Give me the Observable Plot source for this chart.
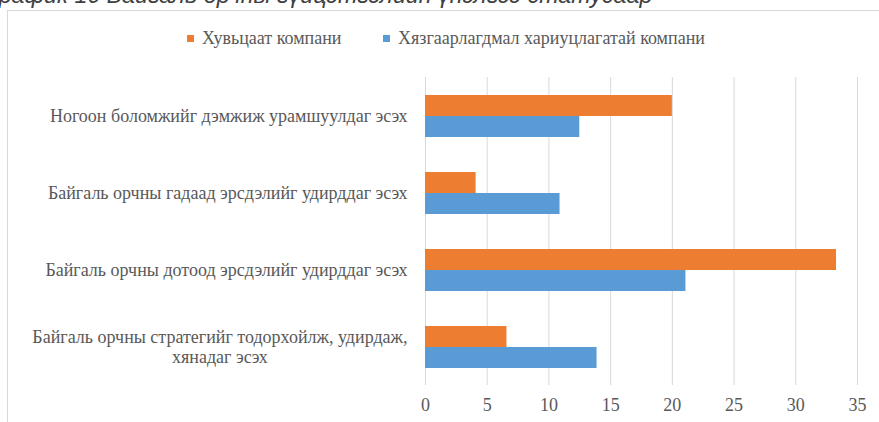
<!DOCTYPE html>
<html><head><meta charset="utf-8">
<script src="https://cdn.jsdelivr.net/npm/d3@7"></script>
<script src="https://cdn.jsdelivr.net/npm/@observablehq/plot@0.6"></script>
<style>
html,body{margin:0;padding:0;background:#fff;}
body{width:879px;height:422px;overflow:hidden;position:relative;font-family:"Liberation Serif",serif;}
#title{position:absolute;left:-13px;top:-16px;font-style:italic;font-family:"Liberation Sans",Arial,sans-serif;font-size:23.3px;line-height:1;color:#404040;white-space:nowrap;}
#frame{position:absolute;left:7px;top:10px;width:920px;height:440px;border:1px solid #d9d9d9;box-sizing:border-box;}
.li{position:absolute;top:29px;height:18px;display:flex;align-items:center;font-size:18px;color:#595959;white-space:nowrap;font-family:"Liberation Serif",serif;}
.sw{width:7px;height:7px;margin-right:8px;}
#chart{position:absolute;left:0;top:55px;}
#chart svg text{font-family:"Liberation Serif",serif;}
</style></head>
<body>
<div id="title"></div>
<div id="frame"></div>
<div id="legend"></div>
<div id="chart"></div>
<script>
const titleText = "График 10 Байгаль орчны гүйцэтгэлийн үнэлгээ статусаар";
const categories = [
  "Ногоон боломжийг дэмжиж урамшуулдаг эсэх",
  "Байгаль орчны гадаад эрсдэлийг удирддаг эсэх",
  "Байгаль орчны дотоод эрсдэлийг удирддаг эсэх",
  "Байгаль орчны стратегийг тодорхойлж, удирдаж,\nхянадаг эсэх"
];
const seriesNames = ["Хувьцаат компани", "Хязгаарлагдмал хариуцлагатай компани"];
const jointStock = [20.0, 4.1, 33.3, 6.6];
const llc = [12.5, 10.9, 21.1, 13.9];
const xTicks = [0, 5, 10, 15, 20, 25, 30, 35];
const colors = ["#ED7D31", "#5B9BD5"];

const data = [];
categories.forEach((c, i) => {
  data.push({category: c, series: seriesNames[0], value: jointStock[i]});
  data.push({category: c, series: seriesNames[1], value: llc[i]});
});

document.getElementById("title").textContent = titleText;

// legend
const legend = document.getElementById("legend");
const legendLeft = [187, 383];
seriesNames.forEach((s, i) => {
  const d = document.createElement("div");
  d.className = "li";
  d.style.left = legendLeft[i] + "px";
  d.innerHTML = `<span class="sw" style="background:${colors[i]}"></span><span>${s}</span>`;
  legend.appendChild(d);
});

const chart = Plot.plot({
  width: 879,
  height: 367,
  marginLeft: 425,
  marginRight: 22,
  marginTop: 21,
  marginBottom: 37,
  style: {fontFamily: "'Liberation Serif', serif", fontSize: "18px", color: "#595959", background: "transparent"},
  x: {domain: [0, 35], axis: null},
  fy: {domain: categories, padding: 0, axis: null},
  y: {domain: seriesNames, paddingInner: 0, paddingOuter: 0.8, axis: null},
  color: {domain: seriesNames, range: colors},
  marks: [
    Plot.gridX(xTicks, {stroke: "#d9d9d9", strokeOpacity: 1, strokeWidth: 1}),
    Plot.barX(data, {x: "value", y: "series", fy: "category", fill: "series"}),
    Plot.axisX(xTicks, {tickSize: 0, tickPadding: 13, fontSize: 18, label: null}),
    Plot.axisFy({anchor: "left", tickSize: 0, tickPadding: 18, lineHeight: 1.1, fontSize: 18, label: null})
  ]
});
document.getElementById("chart").appendChild(chart);

// center continuation lines of wrapped labels under the first line
chart.querySelectorAll("text").forEach(t => {
  const spans = t.querySelectorAll("tspan");
  if (spans.length > 1) {
    const w = spans[0].getComputedTextLength();
    const x0 = +(spans[0].getAttribute("x") || 0);
    for (let k = 1; k < spans.length; k++) {
      spans[k].setAttribute("x", x0 - w / 2);
      spans[k].setAttribute("text-anchor", "middle");
    }
  }
});
</script>
</body></html>
